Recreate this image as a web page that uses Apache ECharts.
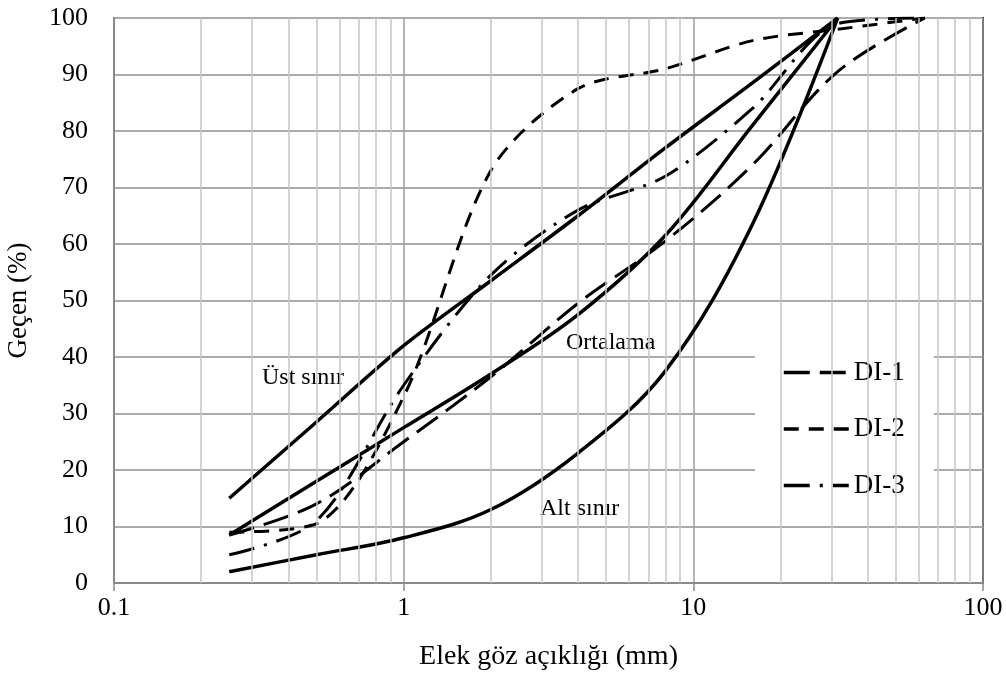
<!DOCTYPE html>
<html>
<head>
<meta charset="utf-8">
<script src="https://cdn.jsdelivr.net/npm/echarts@6/dist/echarts.min.js"></script>
<style>
  html, body { margin: 0; padding: 0; background: #fff; }
  #chart { width: 1006px; height: 679px; }
</style>
</head>
<body>
<div id="chart"></div>
<script>
// Sieve openings (mm)
const sieves = [0.25, 0.5, 1, 2, 4, 8, 16, 31.5, 63];
const limitSieves = [0.25, 0.5, 1, 2, 4, 8, 16, 31.5];

// Gradation limits (% passing)
const ustSinir = [15, 28.5, 42, 53.5, 65, 77, 88.5, 100];
const ortalama = [8.5, 18, 27.5, 37, 47.5, 61.5, 81, 100];
const altSinir = [2, 5, 8, 13, 23, 37.5, 63.5, 100];

// Measured gradations (% passing)
const di1 = [8.5, 14, 25, 36.5, 49.5, 60.5, 74, 90.5, 100];
const di2 = [9, 10.5, 33, 73, 87.5, 91, 96, 98, 100];
const di3 = [5, 11, 35, 54.5, 66, 72, 84, 99, 100];

// Log-axis minor grid positions
const minorGrid = [0.2, 0.3, 0.4, 0.5, 0.6, 0.7, 0.8, 0.9,
                   2, 3, 4, 5, 6, 7, 8, 9,
                   20, 30, 40, 50, 60, 70, 80, 90];
const yTicks = { min: 0, max: 100, interval: 10 };

const FONT = '"Liberation Serif", "Times New Roman", serif';

function pairs(xs, ys) { return xs.map((x, i) => [x, ys[i]]); }

function curve(name, xs, ys, type, width, smooth) {
  return {
    name: name,
    type: 'line',
    data: pairs(xs, ys),
    smooth: smooth,
    showSymbol: false,
    symbol: 'none',
    z: 3,
    lineStyle: { color: '#000', width: width, type: type, cap: 'butt' },
    itemStyle: { color: '#000' },
    emphasis: { disabled: true }
  };
}

const chart = echarts.init(document.getElementById('chart'), null, { renderer: 'canvas' });

chart.setOption({
  animation: false,
  backgroundColor: '#fff',
  grid: {
    left: 114, right: 23, top: 18, bottom: 96,
    outerBoundsMode: 'none',
    containLabel: false,
    show: true, borderColor: '#1a1a1a', borderWidth: 2, backgroundColor: 'transparent'
  },
  xAxis: {
    type: 'log',
    logBase: 10,
    min: 0.1,
    max: 100,
    name: 'Elek göz açıklığı (mm)',
    nameLocation: 'middle',
    nameGap: 60,
    nameTextStyle: { fontFamily: FONT, fontSize: 28, color: '#000' },
    axisLine: { show: true, lineStyle: { color: '#8a8a8a', width: 2 } },
    axisTick: { show: true, length: 8, lineStyle: { color: '#8a8a8a', width: 1.5 } },
    axisLabel: {
      fontFamily: FONT, fontSize: 26, color: '#000', margin: 12,
      formatter: v => String(v)
    },
    splitLine: { show: true, lineStyle: { color: '#9c9c9c', width: 1.5 } }
  },
  yAxis: {
    type: 'value',
    min: yTicks.min,
    max: yTicks.max,
    interval: yTicks.interval,
    name: 'Geçen (%)',
    nameLocation: 'middle',
    nameGap: 82,
    nameTextStyle: { fontFamily: FONT, fontSize: 27, color: '#000' },
    axisLine: { show: true, lineStyle: { color: '#8a8a8a', width: 2 } },
    axisTick: { show: false },
    axisLabel: { fontFamily: FONT, fontSize: 26, color: '#000', margin: 26 },
    splitLine: { show: true, lineStyle: { color: '#ababab', width: 2 } }
  },
  legend: {
    data: ['DI-1', 'DI-2', 'DI-3'],
    orient: 'vertical',
    left: 755,
    top: 342,
    padding: [17, 29, 17, 27],
    backgroundColor: '#fff',
    itemWidth: 65,
    itemHeight: 14,
    itemGap: 29.5,
    itemStyle: { opacity: 0 },
    lineStyle: { width: 3.5 },
    textStyle: { fontFamily: FONT, fontSize: 27, color: '#000' },
    selectedMode: false
  },
  series: [
    {
      name: 'grid-minor',
      type: 'line',
      data: [],
      z: 1,
      silent: true,
      markLine: {
        silent: true,
        symbol: 'none',
        label: { show: false },
        lineStyle: { color: '#c6c6c6', width: 1.5, type: 'solid' },
        emphasis: { disabled: true },
        data: minorGrid.map(v => ({ xAxis: v }))
      }
    },
    curve('Üst sınır', limitSieves, ustSinir, 'solid', 3.5, 0.3),
    curve('Ortalama', limitSieves, ortalama, 'solid', 3.5, 0.35),
    curve('Alt sınır', limitSieves, altSinir, 'solid', 3.5, 0.35),
    curve('DI-1', sieves, di1, [26, 10], 3, 0.35),
    curve('DI-2', sieves, di2, [15, 10], 3, 0.3),
    curve('DI-3', sieves, di3, [26, 10, 3, 10], 3, 0.3)
  ],
  graphic: [
    { type: 'text', left: 262, top: 366, style: { text: 'Üst sınır', font: '24px ' + FONT, fill: '#000' } },
    { type: 'text', left: 566, top: 331, style: { text: 'Ortalama', font: '24px ' + FONT, fill: '#000' } },
    { type: 'text', left: 540, top: 497, style: { text: 'Alt sınır', font: '24px ' + FONT, fill: '#000' } }
  ]
});
</script>
</body>
</html>
